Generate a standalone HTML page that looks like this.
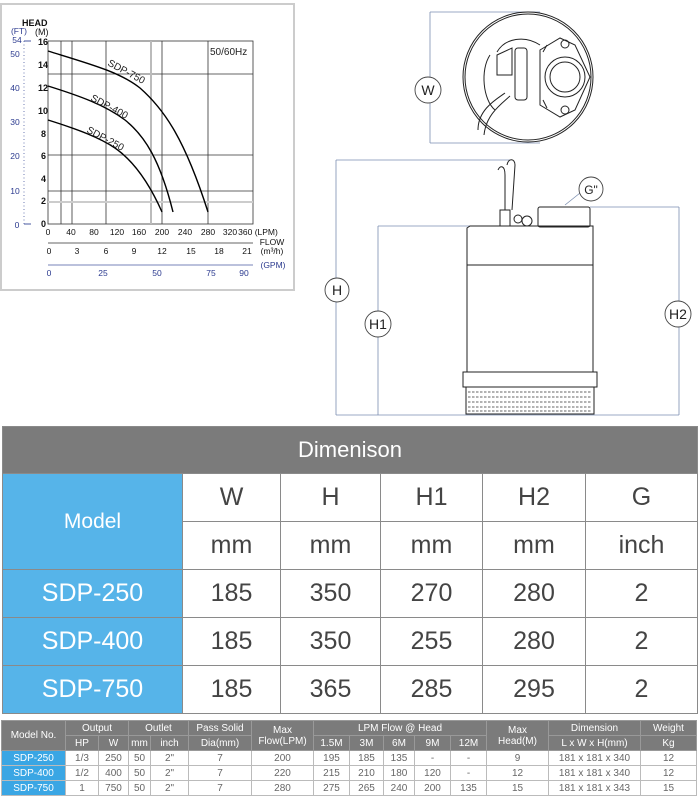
<!DOCTYPE html>
<html><head><meta charset="utf-8"><style>
body{margin:0;width:700px;height:806px;background:#fff;position:relative;overflow:hidden;font-family:"Liberation Sans",sans-serif}
svg{position:absolute;left:0;top:0}
table{border-collapse:collapse;position:absolute}
#dim{left:2px;top:426px;width:696px;table-layout:fixed}
#dim td{border:1px solid #8a8a8a;text-align:center;color:#444;font-size:25px;padding:0;height:47px}
#dim .hd{background:#7b7b7b;color:#fff;font-size:22px;height:46px}
#dim .bl{background:#56b4e9;color:#fff}
#sp{left:1px;top:720px;width:696px;table-layout:fixed;font-size:10px}
#sp td{border:1px solid #bbb;text-align:center;color:#666;padding:0;height:14px;font-family:"Liberation Sans Narrow","Liberation Sans",sans-serif}
#sp .h{background:#7b7b7b;color:#fff;border-color:#999}
#sp .b{background:#3aa6e4;color:#fff}
</style></head><body>
<svg width="700" height="420" viewBox="0 0 700 420">
<rect x="1" y="4" width="293" height="286" fill="#fff" stroke="#ccc" stroke-width="2"/>
<g stroke="#333" stroke-width="0.8" fill="none">
<rect x="48" y="41" width="205" height="183"/>
<line x1="61" y1="41" x2="61" y2="224"/><line x1="72" y1="41" x2="72" y2="224"/><line x1="106" y1="41" x2="106" y2="224"/><line x1="162" y1="41" x2="162" y2="224"/><line x1="208" y1="41" x2="208" y2="224"/>
<line x1="48" y1="74" x2="253" y2="74"/><line x1="48" y1="155" x2="253" y2="155"/><line x1="48" y1="191" x2="253" y2="191"/>
</g>
<line x1="151" y1="41" x2="151" y2="224" stroke="#bbb" stroke-width="2"/>
<line x1="48" y1="202" x2="253" y2="202" stroke="#ccc" stroke-width="2"/>
<g stroke="#000" stroke-width="1.4" fill="none">
<path d="M48,51 C90,64 120,72 140,88 C165,110 185,140 208,212"/>
<path d="M48,86 C80,96 105,105 125,120 C145,136 160,160 173,212"/>
<path d="M48,120 C80,130 100,138 115,148 C135,162 150,185 162,212"/>
</g>
<g font-size="10" fill="#222">
<text x="107" y="65" transform="rotate(28 107 65)">SDP-750</text>
<text x="90" y="100" transform="rotate(28 90 100)">SDP-400</text>
<text x="86" y="132" transform="rotate(28 86 132)">SDP-250</text>
<text x="210" y="55" font-size="10">50/60Hz</text>
</g>
<g font-size="9" fill="#111" font-weight="bold">
<text x="22" y="26">HEAD</text><text x="35" y="35" font-weight="normal">(M)</text>
<text x="38" y="45">16</text><text x="38" y="68">14</text><text x="38" y="91">12</text><text x="38" y="114">10</text><text x="41" y="137">8</text><text x="41" y="159">6</text><text x="41" y="182">4</text><text x="41" y="204">2</text><text x="41" y="227">0</text>
</g>
<g font-size="8.5" fill="#111" text-anchor="middle">
<text x="48" y="235">0</text><text x="71" y="235">40</text><text x="94" y="235">80</text><text x="117" y="235">120</text><text x="139" y="235">160</text><text x="162" y="235">200</text><text x="185" y="235">240</text><text x="208" y="235">280</text><text x="230" y="235">320</text><text x="258" y="235">360 (LPM)</text>
<text x="272" y="245">FLOW</text><text x="272" y="254">(m³/h)</text>
<text x="49" y="254">0</text><text x="77" y="254">3</text><text x="106" y="254">6</text><text x="134" y="254">9</text><text x="162" y="254">12</text><text x="191" y="254">15</text><text x="219" y="254">18</text><text x="247" y="254">21</text>
</g>
<line x1="48" y1="243" x2="253" y2="243" stroke="#333" stroke-width="0.8"/>
<line x1="48" y1="265" x2="253" y2="265" stroke="#4a5aa0" stroke-width="0.8"/>
<g font-size="8.5" fill="#2b3a8f" text-anchor="middle">
<text x="49" y="276">0</text><text x="103" y="276">25</text><text x="157" y="276">50</text><text x="211" y="276">75</text><text x="244" y="276">90</text><text x="273" y="268">(GPM)</text>
<text x="19" y="34">(FT)</text><text x="17" y="43">54</text><text x="15" y="57">50</text><text x="15" y="91">40</text><text x="15" y="125">30</text><text x="15" y="159">20</text><text x="15" y="194">10</text><text x="17" y="228">0</text>
</g>
<line x1="24" y1="41" x2="24" y2="224" stroke="#4a5aa0" stroke-width="0.8" stroke-dasharray="1 2.5"/>
<line x1="24" y1="41" x2="31" y2="41" stroke="#4a5aa0"/><line x1="24" y1="224" x2="31" y2="224" stroke="#4a5aa0"/>
<g stroke="#7a8db0" stroke-width="0.8" fill="none">
<line x1="430" y1="12" x2="540" y2="12"/><line x1="430" y1="143" x2="540" y2="143"/><line x1="430" y1="12" x2="430" y2="143"/>
<line x1="336" y1="160" x2="510" y2="160"/><line x1="336" y1="160" x2="336" y2="415"/><line x1="336" y1="415" x2="679" y2="415"/>
<line x1="378" y1="226" x2="470" y2="226"/><line x1="378" y1="226" x2="378" y2="415"/>
<line x1="590" y1="207" x2="679" y2="207"/><line x1="679" y1="207" x2="679" y2="415"/>
<line x1="565" y1="205" x2="580" y2="193"/>
</g>
<g fill="#fff" stroke="#444" stroke-width="0.9">
<circle cx="428" cy="90" r="13"/><circle cx="337" cy="290" r="12"/><circle cx="378" cy="324" r="13"/><circle cx="678" cy="314" r="13"/><circle cx="591" cy="189" r="12"/>
</g>
<g font-size="14" fill="#222" text-anchor="middle">
<text x="428" y="95">W</text><text x="337" y="295">H</text><text x="378" y="329">H1</text><text x="678" y="319">H2</text><text x="591" y="194" font-size="12">G"</text>
</g>
<g stroke="#222" stroke-width="1" fill="none">
<circle cx="528" cy="77" r="65"/><circle cx="528" cy="77" r="63"/>
<path d="M490,55 C480,70 483,100 495,110"/>
<rect x="515" y="48" width="12" height="52" rx="3"/>
<path d="M497,52 C505,38 525,35 540,45 M497,55 L512,48 L512,75 L497,75 Z"/>
<path d="M540,50 L560,38 L575,45 L590,77 L575,110 L560,117 L540,105 Z"/>
<circle cx="565" cy="77" r="20"/><circle cx="565" cy="77" r="15"/>
<circle cx="565" cy="44" r="4"/><circle cx="565" cy="110" r="4"/>
<path d="M505,93 C495,100 478,110 478,130 M510,96 C500,105 486,115 484,135"/>
<path d="M547,45 L543,52 M547,108 L543,100"/>
<path d="M467,228 L470,226 L593,226 L593,228 L593,372 L467,372 Z"/>
<line x1="467" y1="265" x2="593" y2="265"/>
<rect x="463" y="372" width="134" height="15"/>
<path d="M466,387 L466,414 L594,414 L594,387"/>
<rect x="538" y="207" width="52" height="20" rx="2"/>
<path d="M500,226 L500,210 L510,210 L510,226 M505,210 L505,175 C505,165 500,165 498,170 M512,210 L515,165 C515,158 508,158 507,165"/>
<circle cx="518" cy="219" r="4"/><circle cx="527" cy="221" r="5"/>
</g>
<g fill="none" stroke="#333" stroke-width="0.7">
<path d="M468,392 H592 M468,397 H592 M468,402 H592 M468,407 H592 M468,411 H592" stroke-dasharray="2.5 1.5"/>
</g>
</svg>
<table id="dim">
<colgroup><col style="width:180px"><col style="width:98px"><col style="width:100px"><col style="width:102px"><col style="width:103px"><col></colgroup>
<tr><td class="hd" colspan="6">Dimenison</td></tr>
<tr><td class="bl" rowspan="2" style="font-size:21px">Model</td><td>W</td><td>H</td><td>H1</td><td>H2</td><td>G</td></tr>
<tr><td>mm</td><td>mm</td><td>mm</td><td>mm</td><td>inch</td></tr>
<tr><td class="bl">SDP-250</td><td>185</td><td>350</td><td>270</td><td>280</td><td>2</td></tr>
<tr><td class="bl">SDP-400</td><td>185</td><td>350</td><td>255</td><td>280</td><td>2</td></tr>
<tr><td class="bl">SDP-750</td><td>185</td><td>365</td><td>285</td><td>295</td><td>2</td></tr>
</table>
<table id="sp">
<colgroup><col style="width:64px"><col style="width:33px"><col style="width:30px"><col style="width:22px"><col style="width:38px"><col style="width:63px"><col style="width:62px"><col style="width:36px"><col style="width:34px"><col style="width:31px"><col style="width:36px"><col style="width:36px"><col style="width:62px"><col style="width:92px"><col></colgroup>
<tr><td class="h" rowspan="2">Model No.</td><td class="h" colspan="2">Output</td><td class="h" colspan="2">Outlet</td><td class="h">Pass Solid</td><td class="h" rowspan="2">Max<br>Flow(LPM)</td><td class="h" colspan="5">LPM Flow @ Head</td><td class="h" rowspan="2">Max<br>Head(M)</td><td class="h">Dimension</td><td class="h">Weight</td></tr>
<tr><td class="h">HP</td><td class="h">W</td><td class="h">mm</td><td class="h">inch</td><td class="h">Dia(mm)</td><td class="h">1.5M</td><td class="h">3M</td><td class="h">6M</td><td class="h">9M</td><td class="h">12M</td><td class="h">L x W x H(mm)</td><td class="h">Kg</td></tr>
<tr><td class="b">SDP-250</td><td>1/3</td><td>250</td><td>50</td><td>2"</td><td>7</td><td>200</td><td>195</td><td>185</td><td>135</td><td>-</td><td>-</td><td>9</td><td>181 x 181 x 340</td><td>12</td></tr>
<tr><td class="b">SDP-400</td><td>1/2</td><td>400</td><td>50</td><td>2"</td><td>7</td><td>220</td><td>215</td><td>210</td><td>180</td><td>120</td><td>-</td><td>12</td><td>181 x 181 x 340</td><td>12</td></tr>
<tr><td class="b">SDP-750</td><td>1</td><td>750</td><td>50</td><td>2"</td><td>7</td><td>280</td><td>275</td><td>265</td><td>240</td><td>200</td><td>135</td><td>15</td><td>181 x 181 x 343</td><td>15</td></tr>
</table>
</body></html>
